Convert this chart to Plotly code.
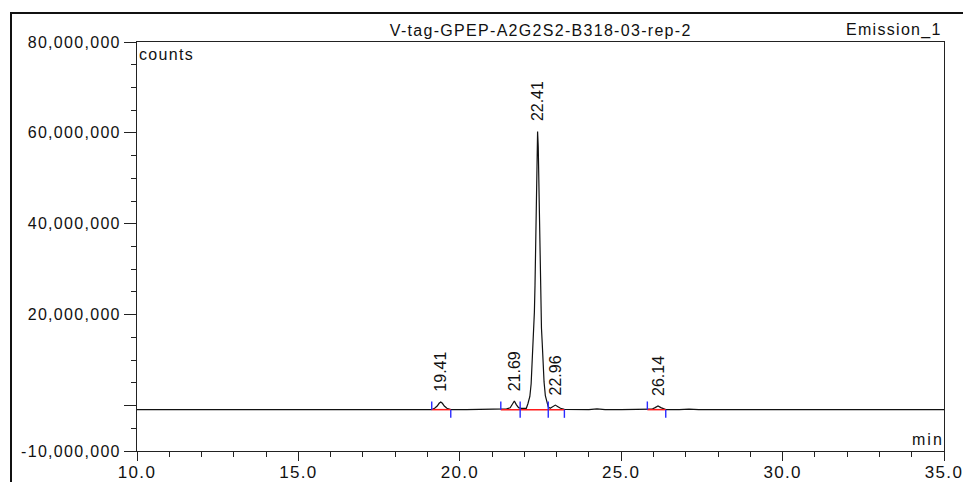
import plotly.graph_objects as go

# ---- data (signal in counts) ----
time_min = [10.0, 12.0, 14.0, 16.0, 18.0, 18.9, 19.13, 19.22, 19.30, 19.36, 19.41, 19.46, 19.52, 19.60, 19.72,
            20.2, 20.8, 21.27, 21.45, 21.56, 21.63, 21.69, 21.75, 21.82, 21.90, 22.0, 22.06, 22.11, 22.17,
            22.21, 22.24, 22.27, 22.29, 22.31, 22.33, 22.35, 22.37, 22.39, 22.41, 22.43, 22.45, 22.47, 22.49,
            22.51, 22.53, 22.555, 22.58, 22.61, 22.65, 22.70, 22.74, 22.80, 22.88, 22.96, 23.04, 23.12, 23.24,
            23.6, 24.0, 24.25, 24.5, 25.0, 25.5, 25.81, 25.95, 26.05, 26.14, 26.23, 26.32, 26.38, 26.8, 27.1,
            27.4, 28.0, 30.0, 32.0, 34.0, 35.0]
signal_M = [-0.9, -0.9, -0.9, -0.9, -0.9, -0.9, -0.88, -0.6, -0.1, 0.5, 0.8, 0.5, -0.1, -0.6, -0.88,
            -0.9, -0.88, -0.85, -0.72, -0.5, 0.2, 1.0, 0.2, -0.45, -0.6, -0.65, -0.6, 0.4, 2.0,
            4.8, 9.0, 13.5, 16.5, 20.5, 26.5, 36.0, 47.5, 57.0, 60.3, 57.0, 47.5, 36.5, 27.0,
            21.0, 17.0, 13.5, 9.5, 5.2, 2.2, 0.5, -0.3, -0.6, -0.25, 0.1, -0.25, -0.6, -0.82,
            -0.88, -0.88, -0.75, -0.88, -0.9, -0.9, -0.88, -0.8, -0.45, -0.1, -0.45, -0.8, -0.88, -0.9, -0.8,
            -0.9, -0.9, -0.9, -0.9, -0.9, -0.9]
signal = [v * 1e6 for v in signal_M]

peak_rt = [19.41, 21.69, 22.41, 22.96, 26.14]
peak_apex_M = [0.8, 1.0, 60.3, 0.1, -0.1]
peak_start = [19.13, 21.27, 21.87, 22.74, 25.81]
peak_end = [19.72, 21.87, 22.74, 23.24, 26.38]
baseline_M = -0.9

y_tickvals = [-10e6, 0, 20e6, 40e6, 60e6, 80e6]
y_ticktext = ["-10,000,000", "", "20,000,000", "40,000,000", "60,000,000", "80,000,000"]
x_tickvals = [10, 15, 20, 25, 30, 35]
x_ticktext = ["10.0", "15.0", "20.0", "25.0", "30.0", "35.0"]

title_text = "V-tag-GPEP-A2G2S2-B318-03-rep-2"
channel_text = "Emission_1"

FONT = "Liberation Sans, Arial, sans-serif"
INK = "#111111"
BL = baseline_M * 1e6
TICK = 1.8e6

fig = go.Figure()

# integration baselines (red)
rx, ry = [], []
for s, e in [(19.13, 19.72), (21.27, 23.24), (25.81, 26.38)]:
    rx += [s, e, None]
    ry += [BL, BL, None]

fig.add_trace(go.Scatter(x=time_min, y=signal, mode="lines",
                         line=dict(color=INK, width=1.2), showlegend=False, hoverinfo="skip"))
fig.add_trace(go.Scatter(x=rx, y=ry, mode="lines", line=dict(color="#ff1a1a", width=1.5),
                         showlegend=False, hoverinfo="skip"))

# blue start/end markers
bx, by = [], []
for s in peak_start:
    bx += [s, s, None]
    by += [BL, BL + TICK, None]
for e in peak_end:
    bx += [e, e, None]
    by += [BL, BL - TICK, None]
fig.add_trace(go.Scatter(x=bx, y=by, mode="lines", line=dict(color="#2a2aff", width=1.4),
                         showlegend=False, hoverinfo="skip"))

annotations = []
for rt, ap in zip(peak_rt, peak_apex_M):
    annotations.append(dict(x=rt, y=ap * 1e6, xref="x", yref="y", text=f"{rt:.2f}",
                            textangle=-90, showarrow=False, xanchor="center", yanchor="bottom",
                            yshift=8, font=dict(family=FONT, size=16, color=INK)))

annotations += [
    dict(x=0, y=1, xref="paper", yref="paper", text="counts", showarrow=False, align="left",
         xanchor="left", yanchor="top", xshift=0, yshift=-2,
         font=dict(family=FONT, size=16, color=INK)),
    dict(x=1, y=0, xref="paper", yref="paper", text="min", showarrow=False, align="right",
         xanchor="right", yanchor="bottom", xshift=2, yshift=1,
         font=dict(family=FONT, size=16, color=INK)),
    dict(x=0.5, y=1, xref="paper", yref="paper", text=title_text, showarrow=False,
         xanchor="center", yanchor="bottom", yshift=1,
         font=dict(family=FONT, size=16, color=INK)),
    dict(x=1, y=1, xref="paper", yref="paper", text=channel_text, showarrow=False, align="right",
         xanchor="right", yanchor="bottom", yshift=1, xshift=0,
         font=dict(family=FONT, size=16, color=INK)),
]

# outer frame (left and top lines)
L, R, T, B = 137, 19, 42, 31
W, H = 963, 482
pw, ph = W - L - R, H - T - B
fx = (11 - L) / pw
fy = 1 + (T - 13) / ph
shapes = [dict(type="path", xref="paper", yref="paper",
               path=f"M {fx},-0.2 L {fx},{fy} L 1.1,{fy}",
               line=dict(color=INK, width=2))]

fig.update_layout(
    width=W, height=H,
    margin=dict(l=L, r=R, t=T, b=B, autoexpand=False),
    paper_bgcolor="white", plot_bgcolor="white",
    annotations=annotations, shapes=shapes,
    font=dict(family=FONT, size=16, color=INK),
)
fig.update_xaxes(range=[10, 35], tickmode="array", tickvals=x_tickvals, ticktext=x_ticktext,
                 automargin=False, ticklabelstandoff=-3,
                 showgrid=False, zeroline=False, showline=True, linecolor="#222222", linewidth=1,
                 mirror=True, ticks="outside", ticklen=9, tickcolor="#222222",
                 tickfont=dict(family=FONT, size=17, color=INK),
                 minor=dict(dtick=1, tick0=10, ticks="outside", ticklen=5, tickcolor="#222222", showgrid=False))
fig.update_yaxes(range=[-10e6, 80e6], tickmode="array", tickvals=y_tickvals, ticktext=y_ticktext,
                 automargin=False,
                 showgrid=False, zeroline=False, showline=True, linecolor="#222222", linewidth=1,
                 mirror=True, ticks="outside", ticklen=12, tickcolor="#222222",
                 tickfont=dict(family=FONT, size=16, color=INK),
                 minor=dict(dtick=5e6, tick0=0, ticks="outside", ticklen=5, tickcolor="#222222", showgrid=False))

# remove page margin; widen letter spacing of axis/header texts (the source uses spaced Arial)
post = """
document.body.style.margin = '0';
document.body.style.overflow = 'hidden';
var gd = document.getElementById('{plot_id}');
function spacing() {
  gd.querySelectorAll('.xtick text, .ytick text').forEach(function(t){ t.style.letterSpacing = '1.3px'; });
  gd.querySelectorAll('.annotation-text').forEach(function(t){
    if (!/^\\d+\\.\\d\\d$/.test(t.textContent)) { t.style.letterSpacing = (t.textContent === 'min') ? '2px' : '1.3px'; }
  });
}
spacing();
if (gd.on) { gd.on('plotly_afterplot', spacing); }
"""
fig.write_html("out.html", post_script=post, config={"displayModeBar": False})
